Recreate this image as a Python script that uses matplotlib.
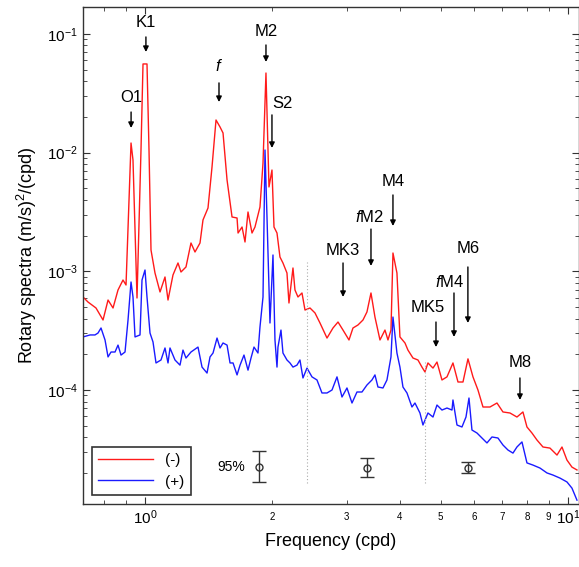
import matplotlib
matplotlib.use("Agg")
import matplotlib.pyplot as plt
from matplotlib import ticker

plt.rcParams['font.family'] = ['Liberation Sans', 'DejaVu Sans']
plt.rcParams['mathtext.fontset'] = 'custom'
plt.rcParams['mathtext.rm'] = 'Liberation Sans'
plt.rcParams['mathtext.it'] = 'Liberation Sans:italic'

# spectrum (-), red
freq_minus = [0.7135, 0.7333, 0.7658, 0.7957, 0.8177, 0.8402, 0.8633, 0.8871, 0.9018,
              0.9267, 0.9367, 0.9574, 0.9784, 0.9892, 1.0109, 1.0220, 1.0332, 1.0559,
              1.0852, 1.1150, 1.1334, 1.1646, 1.1967, 1.2164, 1.2499, 1.2844, 1.3128,
              1.3490, 1.3712, 1.4091, 1.4402, 1.4719, 1.5044, 1.5292, 1.5631, 1.6061,
              1.6505, 1.6596, 1.6960, 1.7236, 1.7520, 1.7906, 1.8197, 1.8700, 1.9011,
              1.9320, 1.9639, 1.9962, 2.0183, 2.0515, 2.0849, 2.1192, 2.1660, 2.1896,
              2.2380, 2.2624, 2.2997, 2.3505, 2.3893, 2.4552, 2.5229, 2.5925, 2.6935,
              2.7825, 2.8597, 2.9386, 3.0359, 3.1024, 3.1878, 3.2764, 3.3481, 3.4220,
              3.4969, 3.5938, 3.6928, 3.7537, 3.8156, 3.8571, 3.9416, 4.0066, 4.1180,
              4.1849, 4.3011, 4.4196, 4.5163, 4.5908, 4.6666, 4.7964, 4.9016, 5.0367,
              5.1756, 5.3473, 5.4954, 5.6469, 5.8025, 5.9626, 6.1268, 6.2966, 6.5407,
              6.7950, 7.0197, 7.2936, 7.5755, 7.8270, 7.9999, 8.2207, 8.4473, 8.7282,
              9.0677, 9.4207, 9.6800, 9.9450, 10.221, 10.503]
spec_minus = [6.08e-4, 5.51e-4, 4.91e-4, 3.89e-4, 5.73e-4, 4.91e-4, 6.96e-4, 8.45e-4, 7.67e-4,
              1.206e-2, 8.67e-3, 5.96e-4, 1.053e-2, 5.59e-2, 5.59e-2, 1.053e-2, 1.512e-3, 9.68e-4,
              6.70e-4, 8.96e-4, 5.73e-4, 9.32e-4, 1.176e-3, 9.87e-4, 1.088e-3, 1.733e-3, 1.455e-3,
              1.733e-3, 2.71e-3, 3.418e-3, 7.57e-3, 1.885e-2, 1.646e-2, 1.465e-2, 5.88e-3, 2.87e-3,
              2.815e-3, 2.103e-3, 2.363e-3, 1.767e-3, 3.162e-3, 2.103e-3, 2.363e-3, 3.485e-3, 8.18e-3,
              4.69e-2, 5.14e-3, 7.14e-3, 2.363e-3, 2.103e-3, 1.320e-3, 1.176e-3, 9.68e-4, 5.41e-4,
              1.067e-3, 6.96e-4, 6.08e-4, 6.57e-4, 4.72e-4, 4.91e-4, 4.46e-4, 3.67e-4, 2.74e-4,
              3.33e-4, 3.74e-4, 3.20e-4, 2.64e-4, 3.33e-4, 3.53e-4, 3.89e-4, 4.55e-4, 6.57e-4,
              4.12e-4, 2.64e-4, 3.20e-4, 2.64e-4, 3.20e-4, 1.427e-3, 9.68e-4, 2.80e-4, 2.49e-4,
              2.17e-4, 1.86e-4, 1.79e-4, 1.56e-4, 1.42e-4, 1.69e-4, 1.53e-4, 1.72e-4, 1.215e-4,
              1.29e-4, 1.69e-4, 1.168e-4, 1.168e-4, 1.83e-4, 1.29e-4, 1.00e-4, 7.19e-5, 7.19e-5,
              7.77e-5, 6.53e-5, 6.40e-5, 5.92e-5, 6.53e-5, 4.88e-5, 4.34e-5, 3.79e-5, 3.31e-5,
              3.24e-5, 2.83e-5, 3.31e-5, 2.57e-5, 2.24e-5, 2.12e-5]

# spectrum (+), blue
freq_plus = [0.7135, 0.7413, 0.7615, 0.7742, 0.7870, 0.8044, 0.8177, 0.8311, 0.8494, 0.8633,
             0.8776, 0.8969, 0.9117, 0.9267, 0.9367, 0.9471, 0.9731, 0.9838, 1.0000, 1.0109,
             1.0276, 1.0445, 1.0617, 1.0909, 1.1150, 1.1334, 1.1457, 1.1773, 1.2098, 1.2296,
             1.2499, 1.2844, 1.3344, 1.3640, 1.4017, 1.4247, 1.4482, 1.4800, 1.5044, 1.5292,
             1.5631, 1.5887, 1.6149, 1.6505, 1.6777, 1.7140, 1.7520, 1.7809, 1.8101, 1.8497,
             1.8700, 1.9011, 1.9218, 1.9427, 1.9747, 2.0072, 2.0290, 2.0515, 2.0624, 2.0964,
             2.1192, 2.1660, 2.2017, 2.2380, 2.2870, 2.3247, 2.3630, 2.4154, 2.4820, 2.5504,
             2.6207, 2.6935, 2.7678, 2.8440, 2.9224, 3.0029, 3.0860, 3.1709, 3.2584, 3.3481,
             3.4402, 3.4969, 3.5545, 3.6526, 3.7330, 3.8156, 3.8571, 3.9416, 4.0066, 4.0727,
             4.1628, 4.2774, 4.3479, 4.4677, 4.5414, 4.6666, 4.7964, 4.9016, 5.0367, 5.1756,
             5.3190, 5.3473, 5.4655, 5.6158, 5.7400, 5.8345, 5.9297, 6.0944, 6.2620, 6.4346,
             6.6120, 6.8311, 7.0197, 7.2146, 7.4131, 7.5755, 7.7858, 7.9999, 8.2663, 8.5866,
             8.9211, 9.2170, 9.5759, 9.9450, 10.221, 10.503]
spec_plus = [2.80e-4, 2.91e-4, 2.91e-4, 3.02e-4, 3.33e-4, 2.64e-4, 1.90e-4, 2.09e-4, 2.09e-4, 2.39e-4,
             1.97e-4, 2.09e-4, 3.89e-4, 8.13e-4, 6.08e-4, 2.80e-4, 2.91e-4, 8.45e-4, 1.026e-3, 6.08e-4,
             3.02e-4, 2.54e-4, 1.69e-4, 1.79e-4, 2.26e-4, 1.69e-4, 2.26e-4, 1.79e-4, 1.62e-4, 2.17e-4,
             1.86e-4, 2.09e-4, 2.30e-4, 1.56e-4, 1.39e-4, 1.90e-4, 2.05e-4, 2.74e-4, 2.26e-4, 2.49e-4,
             2.39e-4, 1.69e-4, 1.69e-4, 1.34e-4, 1.62e-4, 1.97e-4, 1.47e-4, 1.86e-4, 2.30e-4, 2.05e-4,
             3.40e-4, 6.08e-4, 1.053e-2, 2.87e-3, 3.67e-4, 1.373e-3, 2.64e-4, 1.56e-4, 2.30e-4, 3.20e-4,
             2.05e-4, 1.79e-4, 1.69e-4, 1.56e-4, 1.62e-4, 1.79e-4, 1.263e-4, 1.53e-4, 1.29e-4, 1.215e-4,
             9.44e-5, 9.44e-5, 1.00e-4, 1.29e-4, 8.73e-5, 1.04e-4, 7.77e-5, 9.62e-5, 9.62e-5, 1.102e-4,
             1.215e-4, 1.34e-4, 1.06e-4, 1.04e-4, 1.215e-4, 1.90e-4, 4.12e-4, 2.05e-4, 1.56e-4, 1.06e-4,
             9.44e-5, 7.19e-5, 7.77e-5, 6.40e-5, 5.07e-5, 6.40e-5, 5.92e-5, 7.47e-5, 6.78e-5, 7.05e-5,
             6.78e-5, 8.24e-5, 5.07e-5, 4.88e-5, 5.92e-5, 8.56e-5, 4.60e-5, 4.34e-5, 3.94e-5, 3.58e-5,
             4.02e-5, 3.94e-5, 3.44e-5, 3.12e-5, 2.94e-5, 3.31e-5, 3.65e-5, 2.43e-5, 2.33e-5, 2.20e-5,
             2.00e-5, 1.92e-5, 1.81e-5, 1.68e-5, 1.49e-5, 1.18e-5]

# 95% confidence bars for the three frequency bands
ci_freq = [1.86, 3.348, 5.80]
ci_mid = [2.24e-5, 2.20e-5, 2.20e-5]
ci_low = [1.68e-5, 1.85e-5, 2.00e-5]
ci_high = [3.06e-5, 2.67e-5, 2.47e-5]

# band limits
band_edges = [2.415, 4.59]
band_tops = [1.2e-3, 1.72e-4]

# constituent labels: text, text x, text y, arrow x, arrow start, arrow end
peaks = [
    ('O1', 0.927, 0.0289, 0.927, 0.0220, 0.01614),
    ('K1', 1.005, 0.1238, 1.005, 0.0944, 0.0705),
    (r'$\mathit{f}$', 1.496, 0.0537, 1.496, 0.0387, 0.0267),
    ('M2', 1.932, 0.1040, 1.932, 0.0808, 0.0581),
    ('S2', 2.119, 0.0262, 1.996, 0.0208, 0.01095),
    ('MK3', 2.939, 1.512e-3, 2.939, 1.176e-3, 6.08e-4),
    (r'$\mathit{f}$M2', 3.40, 2.87e-3, 3.422, 2.27e-3, 1.11e-3),
    ('M4', 3.857, 5.66e-3, 3.857, 4.40e-3, 2.41e-3),
    ('MK5', 4.667, 4.91e-4, 4.875, 3.74e-4, 2.30e-4),
    (r'$\mathit{f}$M4', 5.26, 8.13e-4, 5.377, 6.57e-4, 2.80e-4),
    ('M6', 5.80, 1.543e-3, 5.80, 1.088e-3, 3.67e-4),
    ('M8', 7.70, 1.69e-4, 7.70, 1.263e-4, 8.24e-5),
]

fig = plt.figure(figsize=(5.79, 5.67), dpi=100)
ax = fig.add_axes([83 / 579, 63 / 567, 496 / 579, 497 / 567])

ax.plot(freq_minus, spec_minus, color='#ff1a1a', lw=1.0, label='(-)')
ax.plot(freq_plus, spec_plus, color='#1a1aff', lw=1.0, label='(+)')

for fe, top in zip(band_edges, band_tops):
    ax.plot([fe, fe], [1.65e-5, top], color='#aaaaaa', lw=0.8, ls=(0, (1, 2)))

err = [[m - lo for m, lo in zip(ci_mid, ci_low)], [hi - m for m, hi in zip(ci_mid, ci_high)]]
ax.errorbar(ci_freq, ci_mid, yerr=err, fmt='o', mfc='none', mec='#333333', ecolor='#333333',
            ms=5, capsize=5, elinewidth=1, mew=1)
ax.text(1.60, ci_mid[0], '95%', fontsize=10, ha='center', va='center')

for lab, tx, ty, axx, a0, a1 in peaks:
    ax.annotate('', xy=(axx, a1), xytext=(axx, a0),
                arrowprops=dict(arrowstyle='-|>', color='k', lw=1, mutation_scale=8,
                                shrinkA=0, shrinkB=0))
    ax.text(tx, ty, lab, fontsize=12, ha='center', va='center')

ax.set_xscale('log')
ax.set_yscale('log')
ax.set_xlim(0.7135, 10.62)
ax.set_ylim(1.095e-5, 0.1688)

ax.xaxis.set_major_locator(ticker.LogLocator(base=10, numticks=5))
ax.xaxis.set_minor_locator(ticker.LogLocator(base=10, subs=range(2, 10), numticks=20))


def minor_lab(v, pos):
    if 1.5 < v < 9.5:
        return '%d' % round(v)
    return ''


ax.xaxis.set_minor_formatter(ticker.FuncFormatter(minor_lab))
ax.tick_params(axis='x', which='minor', labelsize=7, pad=6)
ax.tick_params(axis='both', which='major', labelsize=11)
ax.tick_params(which='both', direction='in', top=True, right=True, color='#333333')
ax.tick_params(which='major', length=5)
ax.tick_params(which='minor', length=3)
ax.yaxis.set_minor_formatter(ticker.NullFormatter())

for s in ax.spines.values():
    s.set_color('#333333')
    s.set_linewidth(1.0)

ax.set_xlabel('Frequency (cpd)', fontsize=13, labelpad=4)
ax.set_ylabel(r'Rotary spectra (m/s)$^2$/(cpd)', fontsize=13, labelpad=6)

leg = ax.legend(loc='lower left', fontsize=11, handlelength=3.6, fancybox=False,
                edgecolor='#333333', borderaxespad=0.6, framealpha=1)
leg.get_frame().set_linewidth(1.2)

fig.savefig('out.png', dpi=100)
